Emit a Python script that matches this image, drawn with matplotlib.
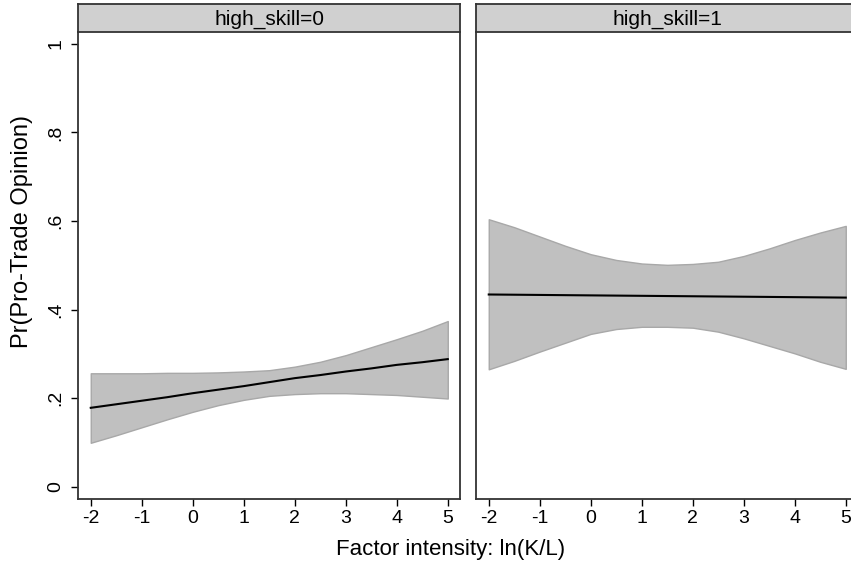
import matplotlib.pyplot as plt

plt.rcParams['font.family'] = ['Liberation Sans', 'DejaVu Sans']

# Predicted probability and 95% CI at half-unit steps
x = [-2, -1.5, -1, -0.5, 0, 0.5, 1, 1.5, 2, 2.5, 3, 3.5, 4, 4.5, 5]

low_fit = [0.178, 0.186, 0.194, 0.202, 0.211, 0.219, 0.227, 0.236,
           0.245, 0.252, 0.260, 0.267, 0.275, 0.281, 0.288]
low_upper = [0.256, 0.256, 0.256, 0.257, 0.257, 0.258, 0.260, 0.263,
             0.271, 0.282, 0.297, 0.315, 0.333, 0.352, 0.374]
low_lower = [0.099, 0.116, 0.134, 0.152, 0.169, 0.184, 0.196, 0.205,
             0.209, 0.211, 0.211, 0.209, 0.207, 0.203, 0.199]

high_fit = [0.434, 0.4335, 0.433, 0.4325, 0.432, 0.4315, 0.431, 0.4305,
            0.430, 0.4295, 0.429, 0.4285, 0.428, 0.4275, 0.427]
high_upper = [0.604, 0.586, 0.565, 0.544, 0.525, 0.512, 0.504, 0.501,
              0.503, 0.508, 0.521, 0.538, 0.557, 0.574, 0.589]
high_lower = [0.265, 0.284, 0.305, 0.325, 0.345, 0.356, 0.361, 0.361,
              0.359, 0.350, 0.335, 0.318, 0.301, 0.282, 0.266]

panels = ['high_skill=0', 'high_skill=1']
xticks = [-2, -1, 0, 1, 2, 3, 4, 5]
yticks = [0, 0.2, 0.4, 0.6, 0.8, 1.0]
ytick_labels = ['0', '.2', '.4', '.6', '.8', '1']

W, H = 851, 564
fig = plt.figure(figsize=(W / 100, H / 100), dpi=100)

boxes = [(78, 460), (476, 858)]
top, bottom, strip_top = 32, 499, 4
data = [(low_fit, low_upper, low_lower), (high_fit, high_upper, high_lower)]

for i, ((x0, x1), (fit, up, lo), title) in enumerate(zip(boxes, data, panels)):
    ax = fig.add_axes([x0 / W, 1 - bottom / H, (x1 - x0) / W, (bottom - top) / H])
    ax.fill_between(x, lo, up, color='#c0c0c0', edgecolor='#a8a8a8', linewidth=1)
    ax.plot(x, fit, color='black', linewidth=1.5)
    ax.set_xlim(-2.25, 5.24)
    ax.set_ylim(-0.028, 1.027)
    ax.set_xticks(xticks)
    ax.set_xticklabels([str(t) for t in xticks], fontsize=14)
    ax.tick_params(axis='x', length=5, width=1, pad=3)
    if i == 0:
        ax.set_yticks(yticks)
        ax.set_yticklabels(ytick_labels, fontsize=14, rotation=90, va='center')
        ax.tick_params(axis='y', length=5, width=1, pad=5)
    else:
        ax.set_yticks([])
    for s in ax.spines.values():
        s.set_linewidth(1.3)
        s.set_color('#333333')
    ax.spines['top'].set_visible(False)

    # strip header
    sax = fig.add_axes([x0 / W, 1 - top / H, (x1 - x0) / W, (top - strip_top) / H])
    sax.set_facecolor('#d0d0d0')
    sax.set_xticks([])
    sax.set_yticks([])
    for s in sax.spines.values():
        s.set_linewidth(1.3)
        s.set_color('#333333')
    sax.text(0.5, 0.45, title, ha='center', va='center', fontsize=15,
             transform=sax.transAxes)

fig.text(451 / W, 1 - 550 / H, 'Factor intensity: ln(K/L)', ha='center', va='center',
         fontsize=16)
fig.text(22 / W, 1 - 231 / H, 'Pr(Pro-Trade Opinion)', ha='center', va='center',
         fontsize=17, rotation=90)

fig.savefig('out.png', dpi=100)
